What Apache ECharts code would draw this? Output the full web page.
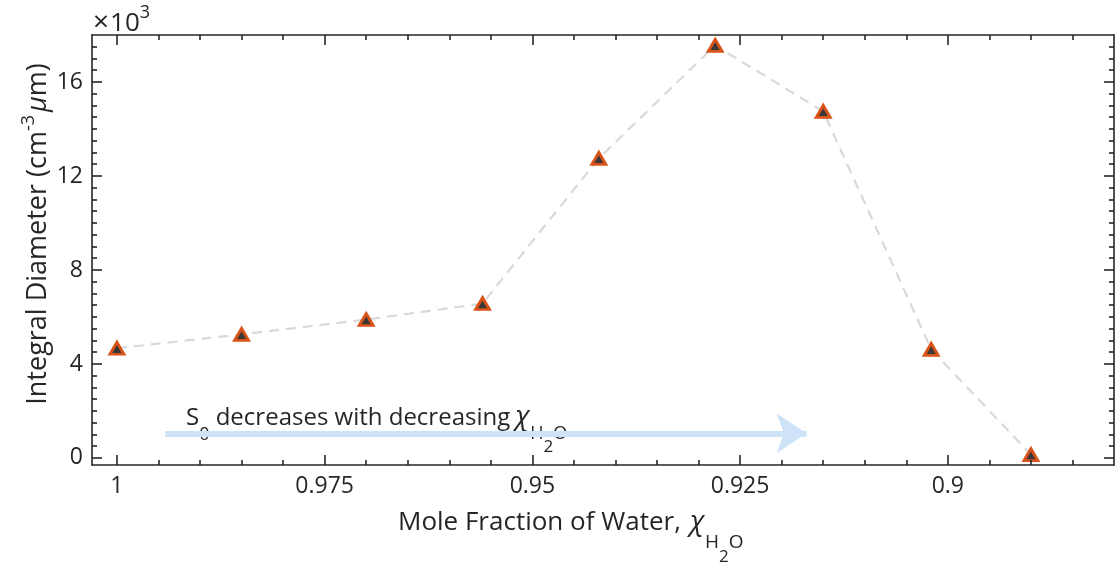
<!DOCTYPE html>
<html>
<head>
<meta charset="utf-8">
<script src="https://cdn.jsdelivr.net/npm/echarts@6/dist/echarts.min.js"></script>
<style>
  html, body { margin: 0; padding: 0; background: #ffffff; }
  #chart { width: 1116px; height: 563px; }
</style>
</head>
<body>
<div id="chart"></div>
<script>
// Mole fraction of water for each sample (x) and integral diameter in units of 10^3 cm^-3 µm (y)
const moleFraction = [1, 0.985, 0.97, 0.956, 0.942, 0.928, 0.915, 0.902, 0.89];
const integralDiameter = [4.67, 5.26, 5.89, 6.57, 12.75, 17.56, 14.75, 4.62, 0.14];

// Axis tick labels
const xTickValues = [1, 0.975, 0.95, 0.925, 0.9];
const xTickLabels = ['1', '0.975', '0.95', '0.925', '0.9'];
const yTickValues = [0, 4, 8, 12, 16];
const yTickLabels = ['0', '4', '8', '12', '16'];

// Annotation arrow: start and end in data coordinates
const arrowStart = [0.9942, 1.05];
const arrowEnd = [0.917, 1.05];

const FONT = '"Open Sans", "Noto Sans", sans-serif';
const INK = '#262626';
const X_MIN = 0.88, X_MAX = 1.003;
const Y_MIN = -0.3, Y_MAX = 18;

function minorTicks(lo, hi, step, majors) {
  const out = [];
  const i0 = Math.round(lo / step), i1 = Math.round(hi / step);
  for (let i = i0; i <= i1; i++) {
    const v = Math.round(i * step * 1e6) / 1e6;
    if (!majors.some(m => Math.abs(m - v) < 1e-9)) out.push(v);
  }
  return out;
}
const xMinor = minorTicks(0.885, 0.995, 0.005, xTickValues);
const yMinor = minorTicks(0.5, 17.5, 0.5, yTickValues);

function labelFor(values, labels) {
  return v => {
    let best = 0;
    values.forEach((t, i) => { if (Math.abs(t - v) < Math.abs(values[best] - v)) best = i; });
    return labels[best];
  };
}

function makeAxis(kind, position, ticks, tickLen, showLabel, showLine) {
  const isX = kind === 'x';
  return {
    type: 'value',
    position: position,
    min: isX ? X_MIN : Y_MIN,
    max: isX ? X_MAX : Y_MAX,
    inverse: isX,
    axisLine: { show: showLine, onZero: false, lineStyle: { color: INK, width: 1.6 } },
    axisTick: { show: true, inside: true, length: tickLen, customValues: ticks,
                lineStyle: { color: INK, width: 1.6 } },
    axisLabel: {
      show: showLabel,
      customValues: isX ? xTickValues : yTickValues,
      formatter: isX ? labelFor(xTickValues, xTickLabels) : labelFor(yTickValues, yTickLabels),
      color: INK, fontFamily: FONT, fontSize: 23,
      margin: isX ? 10 : 9
    },
    splitLine: { show: false },
    minorTick: { show: false },
    z: 5
  };
}

const chart = echarts.init(document.getElementById('chart'), null, { renderer: 'canvas' });

const option = {
  animation: false,
  backgroundColor: '#ffffff',
  grid: { left: 92, right: 2, top: 35, bottom: 98, containLabel: false },
  xAxis: [
    makeAxis('x', 'bottom', xTickValues, 10, true, true),
    makeAxis('x', 'bottom', xMinor, 5, false, false),
    makeAxis('x', 'top', xTickValues, 10, false, true),
    makeAxis('x', 'top', xMinor, 5, false, false)
  ],
  yAxis: [
    makeAxis('y', 'left', yTickValues, 10, true, true),
    makeAxis('y', 'left', yMinor, 5, false, false),
    makeAxis('y', 'right', yTickValues, 10, false, true),
    makeAxis('y', 'right', yMinor, 5, false, false)
  ],
  series: [{
    type: 'line',
    xAxisIndex: 0,
    yAxisIndex: 0,
    data: moleFraction.map((x, i) => [x, integralDiameter[i]]),
    symbol: 'triangle',
    symbolSize: [14, 12],
    showAllSymbol: true,
    lineStyle: { color: '#d9d9d9', width: 2.2, type: [10, 7] },
    itemStyle: { color: '#383838', borderColor: '#d95319', borderWidth: 2.8 },
    emphasis: { disabled: true },
    z: 3,
    markLine: {
      silent: true,
      symbol: ['none', 'arrow'],
      symbolSize: [30, 30],
      label: { show: false },
      lineStyle: { color: '#cfe3f8', width: 6, type: 'solid', opacity: 1 },
      emphasis: { disabled: true },
      data: [[{ coord: arrowStart }, { coord: arrowEnd }]]
    }
  }]
};
chart.setOption(option);

// ---- Text with sub/superscripts, laid out piece by piece ----
const measureCtx = document.createElement('canvas').getContext('2d');
function fontOf(p) {
  return (p.italic ? 'italic ' : '') + p.size + 'px ' + (p.family || FONT);
}
function pieceRow(pieces, x0, baseY) {
  const els = [];
  let x = x0;
  pieces.forEach(p => {
    const font = fontOf(p);
    measureCtx.font = font;
    measureCtx.textBaseline = 'middle';
    const m = measureCtx.measureText(p.t);
    const off = (m.alphabeticBaseline !== undefined && m.alphabeticBaseline !== 0)
      ? Math.abs(m.alphabeticBaseline) : 0.3 * p.size;
    x += (p.pre || 0);
    els.push({
      type: 'text', x: x, y: baseY + (p.dy || 0) - off, silent: true,
      style: { text: p.t, font: font, fill: INK, textAlign: 'left',
               verticalAlign: 'middle', textVerticalAlign: 'middle' }
    });
    x += m.width + (p.gap || 0);
  });
  return { els: els, width: x - x0 };
}

// x-axis title
const xTitle = pieceRow([
  { t: 'Mole Fraction of Water,', size: 26 },
  { t: 'χ', size: 28, italic: true, pre: 9 },
  { t: 'H', size: 19, dy: 18, pre: 1 },
  { t: '2', size: 17, dy: 32 },
  { t: 'O', size: 19, dy: 18 }
], 398, 530);

// y-axis title (rotated, reading upward)
const yPieces = [
  { t: 'Integral Diameter (cm', size: 27 },
  { t: '-3', size: 18, dy: -12, gap: 3 },
  { t: 'μ', size: 27, italic: true },
  { t: 'm)', size: 27 }
];
const yRowProbe = pieceRow(yPieces, 0, 0);
const yTitle = pieceRow(yPieces, -yRowProbe.width / 2, 0);

// exponent marker above the y axis
const expo = pieceRow([
  { t: '×', size: 28 },
  { t: '10', size: 26, pre: 1 },
  { t: '3', size: 18, dy: -13 }
], 93, 31);

// annotation above the arrow
const note = pieceRow([
  { t: 'S', size: 24 },
  { t: '0', size: 18, dy: 15 },
  { t: ' decreases with decreasing', size: 24 },
  { t: 'χ', size: 28, italic: true, pre: 5 },
  { t: 'H', size: 18, dy: 14, pre: 1 },
  { t: '2', size: 17, dy: 27 },
  { t: 'O', size: 18, dy: 14 }
], 186, 425);

chart.setOption({
  graphic: [
    { type: 'group', children: xTitle.els, z: 10 },
    { type: 'group', x: 46, y: 234, rotation: Math.PI / 2, children: yTitle.els, z: 10 },
    { type: 'group', children: expo.els, z: 10 },
    { type: 'group', children: note.els, z: 10 }
  ]
});
</script>
</body>
</html>
